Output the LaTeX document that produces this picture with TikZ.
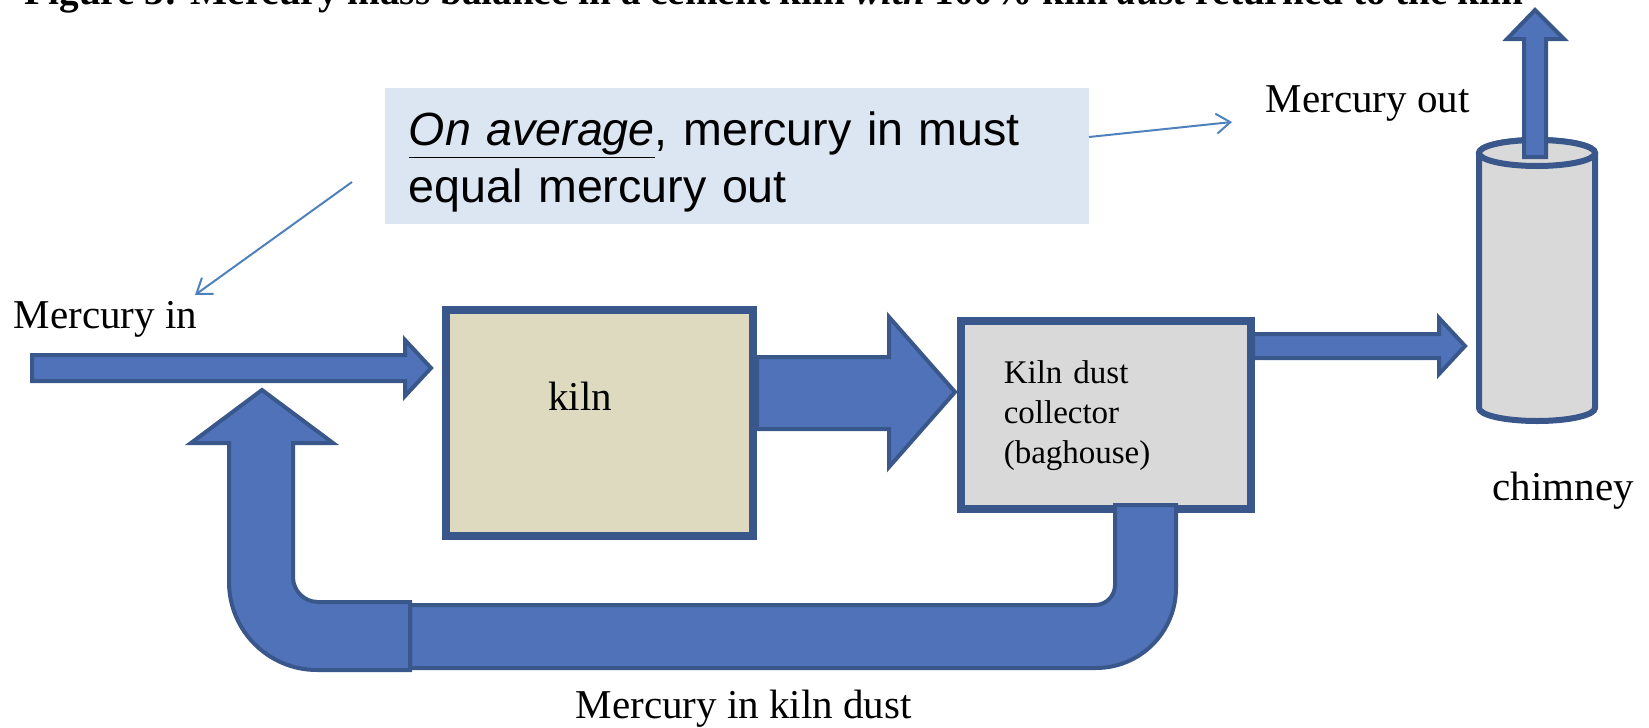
\documentclass[tikz,border=0pt]{standalone}
\usepackage{fontspec}
\setmainfont{Liberation Serif}
\newfontfamily\notefont{Liberation Sans}
\usetikzlibrary{arrows.meta}

\tikzset{every picture/.style={line width=0.75pt}}
\tikzset{
  flowarrow/.style={draw={rgb, 255:red, 58; green, 87; blue, 140}, fill={rgb, 255:red, 79; green, 114; blue, 185}, line width=2pt, line join=miter},
  kilnbox/.style={draw={rgb, 255:red, 58; green, 87; blue, 140}, fill={rgb, 255:red, 221; green, 218; blue, 192}, line width=4pt},
  dustbox/.style={draw={rgb, 255:red, 58; green, 87; blue, 140}, fill={rgb, 255:red, 217; green, 217; blue, 217}, line width=4pt},
  chimneyshape/.style={draw={rgb, 255:red, 58; green, 87; blue, 140}, fill={rgb, 255:red, 217; green, 217; blue, 217}, line width=3pt},
  notefill/.style={fill={rgb, 255:red, 220; green, 230; blue, 242}},
  notearrow/.style={draw={rgb, 255:red, 79; green, 129; blue, 189}, line width=1pt, -{Straight Barb[length=7pt,width=10pt]}},
  flowlabel/.style={anchor=base west, inner sep=0pt, font=\fontsize{20.5}{24}\selectfont}
}

\begin{document}
\begin{tikzpicture}[x=0.5pt,y=0.5pt,yscale=-1,xscale=1]
	\useasboundingbox (0,0) rectangle (1649,728);

	% Text Node (caption, cut by the page edge)
	\begin{scope}
	\clip (0,0) rectangle (1649,728);
	\node[anchor=base west, inner sep=0pt, font=\fontsize{19.6}{24}\selectfont\bfseries] (caption) at (24,4) {Figure 3: Mercury mass balance in a cement kiln \textit{with} 100\% kiln \textit{dust} returned to the kiln};
	\end{scope}

	%Shape: Rectangle
	\path[notefill] (385,88) rectangle (1089,224);
	%Shape: Rectangle
	\draw[kilnbox] (446,310) rectangle (753,536);
	%Shape: Rectangle
	\draw[dustbox] (961,321) rectangle (1251,509);
	%Shape: Can
	\draw[chimneyshape] (1479,153) -- (1479,408) arc (180:0:58 and 13) -- (1595,153) arc (0:-180:58 and 13) -- cycle;
	\draw[chimneyshape] (1537,153) ellipse (58 and 13);

	%Shape: Right Arrow
	\draw[flowarrow] (32,355) -- (405,355) -- (405,340) -- (431,368) -- (405,396) -- (405,381) -- (32,381) -- cycle;
	%Shape: Right Arrow
	\draw[flowarrow] (757,357) -- (889,357) -- (889,317) -- (955,392) -- (889,467) -- (889,429) -- (757,429) -- cycle;
	%Shape: Right Arrow
	\draw[flowarrow] (1253,334) -- (1439,334) -- (1439,318) -- (1465,346) -- (1439,374) -- (1439,358) -- (1253,358) -- cycle;
	%Shape: Up Arrow
	\draw[flowarrow] (1524,157) -- (1524,39) -- (1507,39) -- (1535,10) -- (1564,39) -- (1546,39) -- (1546,157) -- cycle;
	%Shape: Bent Pipe (return of kiln dust)
	\draw[flowarrow] (410,605) -- (1095,605) arc (90:0:20) -- (1115,505) -- (1176,505) -- (1176,588) arc (0:90:80) -- (410,668) -- cycle;
	%Shape: Bent-Up Arrow
	\draw[flowarrow] (410,602) -- (318,602) arc (90:180:25) -- (293,443) -- (333,443) -- (262,390) -- (191,443) -- (229,443) -- (229,582) arc (180:90:88) -- (410,670) -- cycle;

	% Text Node
	\node[anchor=base west, inner sep=0pt, font=\notefont\fontsize{23.3}{28.5}\selectfont, align=left, text width=340pt] (note) at (408,145) {\underline{\textit{On average}}, mercury in must\\equal mercury out};
	% Text Node
	\node[flowlabel] (hgin) at (13,328) {Mercury in};
	% Text Node
	\node[flowlabel] (hgout) at (1265,112) {Mercury out};
	% Text Node
	\node[flowlabel, anchor=base] (kiln) at (580,410) {kiln};
	% Text Node
	\node[anchor=base west, inner sep=0pt, font=\fontsize{16.5}{20}\selectfont, align=left, text width=110pt] (collector) at (1003,383) {Kiln dust\\collector\\(baghouse)};
	% Text Node
	\node[flowlabel] (chimney) at (1492,500) {chimney};
	% Text Node
	\node[flowlabel] (hgdust) at (575,718) {Mercury in kiln dust};

	%Straight Lines
	\coordinate (noteL) at (352,182);
	\coordinate (inTip) at (195,295);
	\coordinate (noteR) at (1089,137);
	\coordinate (outTip) at (1232,122);
	\draw[notearrow] (noteL) -- (inTip);
	\draw[notearrow] (noteR) -- (outTip);

\end{tikzpicture}
\end{document}
